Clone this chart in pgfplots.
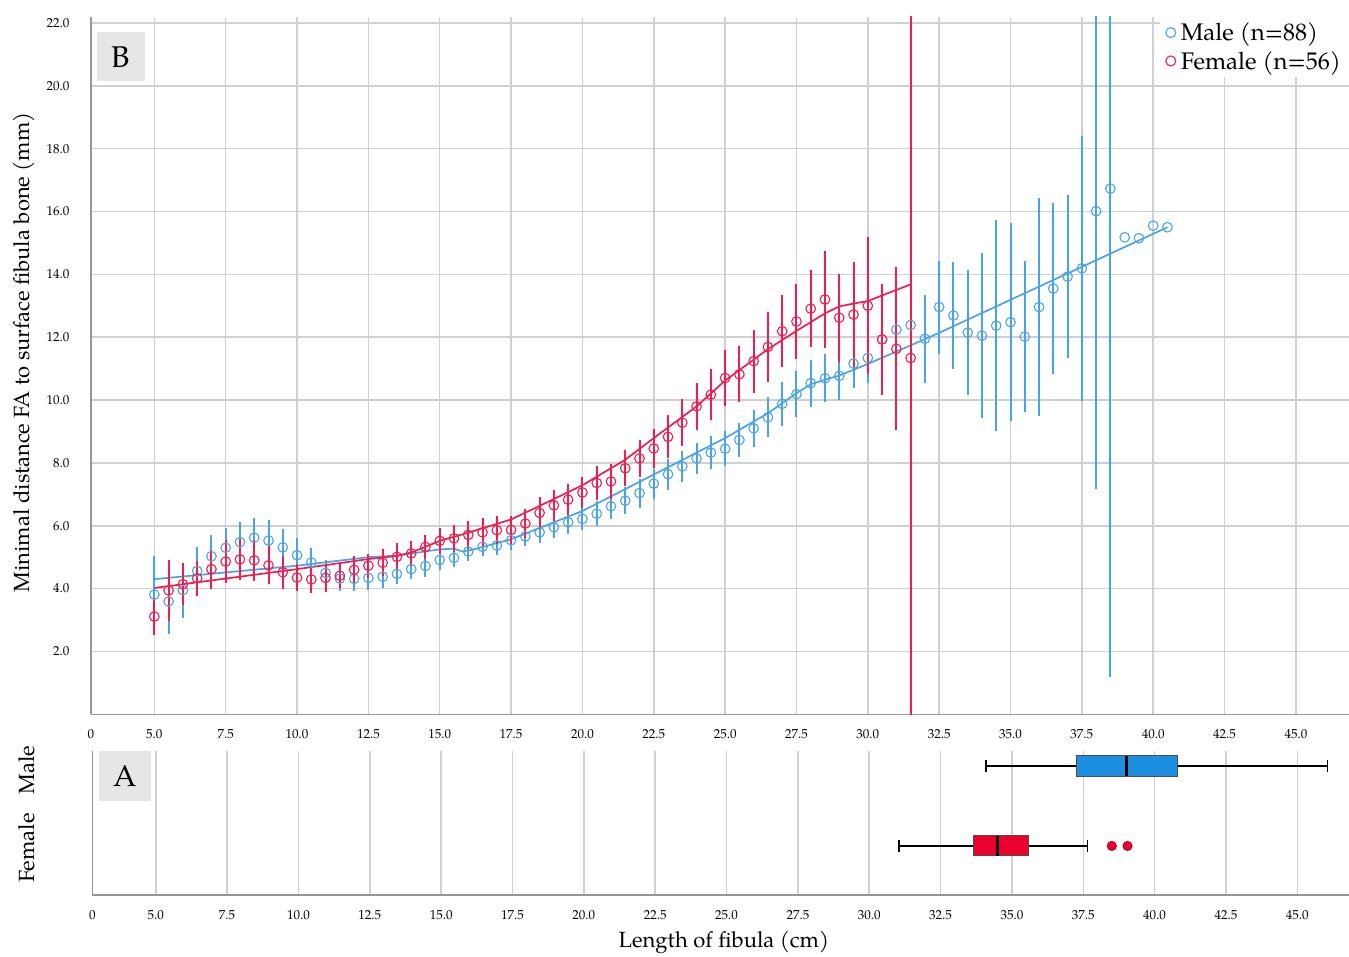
\documentclass[border=0pt]{standalone}
\usepackage{fontspec}
\setmainfont{TeX Gyre Pagella}
\usepackage{pgfplots}
\pgfplotsset{compat=1.18}
\usepackage{pgfplotstable}
\usepgfplotslibrary{statistics}
\definecolor{mblue}{RGB}{74,163,232}
\definecolor{fred}{RGB}{240,30,80}
\definecolor{boxblue}{RGB}{28,143,224}
\definecolor{boxred}{RGB}{236,0,45}
\definecolor{gridc}{RGB}{208,208,208}
\definecolor{axisc}{RGB}{150,150,150}
\definecolor{labbox}{RGB}{230,230,230}

\pgfplotstableread{
x y e
5.0 3.81 1.23
5.5 3.59 1.02
6.0 3.95 0.88
6.5 4.56 0.77
7.0 5.03 0.67
7.5 5.30 0.64
8.0 5.48 0.65
8.5 5.62 0.64
9.0 5.53 0.64
9.5 5.31 0.58
10.0 5.06 0.56
10.5 4.83 0.45
11.0 4.50 0.40
11.5 4.32 0.41
12.0 4.31 0.40
12.5 4.34 0.40
13.0 4.38 0.35
13.5 4.47 0.33
14.0 4.62 0.33
14.5 4.72 0.35
15.0 4.91 0.32
15.5 4.98 0.30
16.0 5.18 0.30
16.5 5.33 0.30
17.0 5.37 0.30
17.5 5.54 0.30
18.0 5.66 0.32
18.5 5.79 0.33
19.0 5.95 0.35
19.5 6.11 0.36
20.0 6.22 0.37
20.5 6.38 0.40
21.0 6.62 0.42
21.5 6.80 0.44
22.0 7.04 0.46
22.5 7.34 0.48
23.0 7.64 0.50
23.5 7.89 0.50
24.0 8.14 0.50
24.5 8.33 0.52
25.0 8.45 0.56
25.5 8.73 0.55
26.0 9.10 0.58
26.5 9.45 0.64
27.0 9.88 0.70
27.5 10.19 0.72
28.0 10.54 0.75
28.5 10.69 0.76
29.0 10.77 0.76
29.5 11.16 0.77
30.0 11.34 0.80
30.5 11.93 0.90
31.0 12.24 1.00
31.5 12.39 1.00
32.0 11.95 1.40
32.5 12.96 1.48
33.0 12.69 1.69
33.5 12.15 1.98
34.0 12.05 2.63
34.5 12.37 3.35
35.0 12.48 3.15
35.5 12.02 2.40
36.0 12.96 3.47
36.5 13.55 2.72
37.0 13.93 2.60
37.5 14.19 4.22
38.0 16.01 8.83
38.5 16.73 15.55
39.0 15.18 0
39.5 15.15 0
40.0 15.55 0
40.5 15.50 0
}\maletab

\pgfplotstableread{
x y e
5.0 3.11 0.60
5.5 3.94 0.98
6.0 4.14 0.66
6.5 4.33 0.56
7.0 4.62 0.62
7.5 4.86 0.69
8.0 4.93 0.65
8.5 4.90 0.66
9.0 4.74 0.60
9.5 4.52 0.52
10.0 4.35 0.44
10.5 4.29 0.42
11.0 4.34 0.45
11.5 4.41 0.40
12.0 4.60 0.43
12.5 4.73 0.38
13.0 4.82 0.43
13.5 5.01 0.43
14.0 5.12 0.40
14.5 5.33 0.39
15.0 5.52 0.42
15.5 5.60 0.43
16.0 5.71 0.45
16.5 5.79 0.45
17.0 5.86 0.45
17.5 5.87 0.45
18.0 6.07 0.45
18.5 6.41 0.50
19.0 6.65 0.50
19.5 6.83 0.50
20.0 7.06 0.50
20.5 7.36 0.55
21.0 7.41 0.56
21.5 7.83 0.58
22.0 8.14 0.60
22.5 8.46 0.62
23.0 8.83 0.68
23.5 9.28 0.74
24.0 9.80 0.75
24.5 10.17 0.82
25.0 10.70 0.88
25.5 10.82 0.89
26.0 11.24 1.00
26.5 11.69 1.10
27.0 12.19 1.14
27.5 12.50 1.18
28.0 12.91 1.23
28.5 13.20 1.54
29.0 12.62 1.40
29.5 12.72 1.68
30.0 13.00 2.18
30.5 11.93 1.77
31.0 11.63 2.59
31.5 11.34 12.00
}\femtab

\pgfplotstableread{
x y
5.0 4.30
10.0 4.73
12.5 5.00
13.5 5.05
15.0 5.25
15.5 5.27
15.8 5.18
16.2 5.25
17.5 5.57
20.0 6.47
22.5 7.63
25.0 8.79
26.5 9.58
27.5 10.22
28.0 10.50
28.5 10.65
29.0 10.78
30.0 11.15
31.5 11.74
32.5 12.14
40.5 15.50
}\malefit

\pgfplotstableread{
x y
5.0 4.02
10.0 4.62
12.5 4.94
13.5 5.04
14.0 5.15
14.5 5.33
15.0 5.52
16.0 5.78
17.5 6.20
19.0 6.85
20.0 7.29
21.5 8.10
22.5 8.79
24.0 9.80
25.0 10.62
26.5 11.62
27.5 12.20
28.5 12.76
29.0 12.98
29.5 13.07
30.0 13.15
30.5 13.33
31.5 13.68
}\femfit

\pgfplotsset{
  baseaxis/.style={
    scale only axis,
    width=1258pt,
    xmin=2.78, xmax=46.86,
    axis x line*=bottom, axis y line*=left,
    axis line style={axisc, line width=1.5pt, -},
    major tick length=0pt,
    xmajorgrids=true,
    major grid style={gridc, line width=1.5pt},
    xtick={2.78,5,7.5,10,12.5,15,17.5,20,22.5,25,27.5,30,32.5,35,37.5,40,42.5,45},
    xticklabels={0,5.0,7.5,10.0,12.5,15.0,17.5,20.0,22.5,25.0,27.5,30.0,32.5,35.0,37.5,40.0,42.5,45.0},
    ticklabel style={font=\fontsize{13}{15}\selectfont},
    xticklabel style={yshift=-12pt},
    /pgf/number format/assume math mode=true,
  }
}

\begin{document}
\begin{tikzpicture}
\useasboundingbox (0,0) rectangle (1349pt,956pt);

% ---------- panel B ----------
\begin{axis}[baseaxis,
  at={(91pt,241.7pt)}, anchor=south west,
  height=697.6pt,
  ymin=0, ymax=22.2,
  ytick={2,4,...,22},
  ymajorgrids=true,
  yticklabel style={/pgf/number format/.cd, fixed, fixed zerofill, precision=1, /tikz/.cd, xshift=-18pt},
  ylabel={Minimal distance FA to surface fibula bone (mm)},
  ylabel style={at={(axis description cs:-0.0535,0.519)}, anchor=center, font=\fontsize{22}{26}\selectfont},
  legend style={at={(1,1)}, anchor=north east, draw=none, fill=white,
    font=\fontsize{24}{28}\selectfont, inner xsep=6pt, inner ysep=4pt,
    row sep=5pt, column sep=3pt},
  legend cell align=left,
]
\addlegendimage{only marks, mark=o, mark size=5pt, mblue, mark options={line width=1.1pt}}
\addlegendentry{Male (n=88)}
\addlegendimage{only marks, mark=o, mark size=5pt, fred, mark options={line width=1.1pt}}
\addlegendentry{Female (n=56)}

\addplot[mblue, line width=1.7pt, forget plot] table[x=x,y=y] {\malefit};
\addplot[only marks, mark=o, mark size=4.8pt, mblue, mark options={line width=1.1pt}, forget plot,
  error bars/.cd, y dir=both, y explicit, error mark=none,
  error bar style={line width=2pt, mblue}]
  table[x=x, y=y, y error=e] {\maletab};
\addplot[fred, line width=1.7pt, forget plot] table[x=x,y=y] {\femfit};
\addplot[only marks, mark=o, mark size=4.8pt, fred, mark options={line width=1.1pt}, forget plot,
  error bars/.cd, y dir=both, y explicit, error mark=none,
  error bar style={line width=2pt, fred}]
  table[x=x, y=y, y error=e] {\femtab};
\end{axis}
\node[fill=labbox, minimum width=48pt, minimum height=49pt, inner sep=0pt,
  font=\fontsize{30}{30}\selectfont] at (121pt,899pt) {B};

% ---------- panel A ----------
\begin{axis}[baseaxis,
  at={(92.4pt,61pt)}, anchor=south west,
  height=144.3pt,
  ymin=0, ymax=1,
  ytick=\empty,
  xlabel={Length of fibula (cm)},
  xlabel style={at={(axis description cs:0.502,-0.33)}, anchor=center, font=\fontsize{22}{26}\selectfont},
  boxplot/draw direction=x,
]
\addplot[boxplot prepared={lower whisker=34.1, lower quartile=37.25, median=39.0,
    upper quartile=40.8, upper whisker=46.05, draw position=0.894, box extend=0.139,
    whisker extend=0.085,
    every box/.style={draw=black!70, line width=1pt, fill=boxblue},
    every median/.style={black, line width=3pt},
    every whisker/.style={black, line width=1.5pt}},
  ] coordinates {};
\addplot[boxplot prepared={lower whisker=31.05, lower quartile=33.65, median=34.5,
    upper quartile=35.58, upper whisker=37.65, draw position=0.34, box extend=0.139,
    whisker extend=0.085,
    every box/.style={draw=black!70, line width=1pt, fill=boxred},
    every median/.style={black, line width=3pt},
    every whisker/.style={black, line width=1.5pt}},
  ] coordinates {};
\addplot[only marks, mark=*, mark size=4.6pt, boxred, mark options={draw=boxred!75!black, line width=0.8pt}]
  coordinates {(38.5,0.34) (39.05,0.34)};
\end{axis}
\node[fill=labbox, minimum width=52pt, minimum height=50pt, inner sep=0pt,
  font=\fontsize{30}{30}\selectfont] at (125pt,180.3pt) {A};
\node[rotate=90, font=\fontsize{22}{26}\selectfont] at (27pt,186pt) {Male};
\node[rotate=90, font=\fontsize{22}{26}\selectfont] at (27pt,108pt) {Female};
\end{tikzpicture}
\end{document}
